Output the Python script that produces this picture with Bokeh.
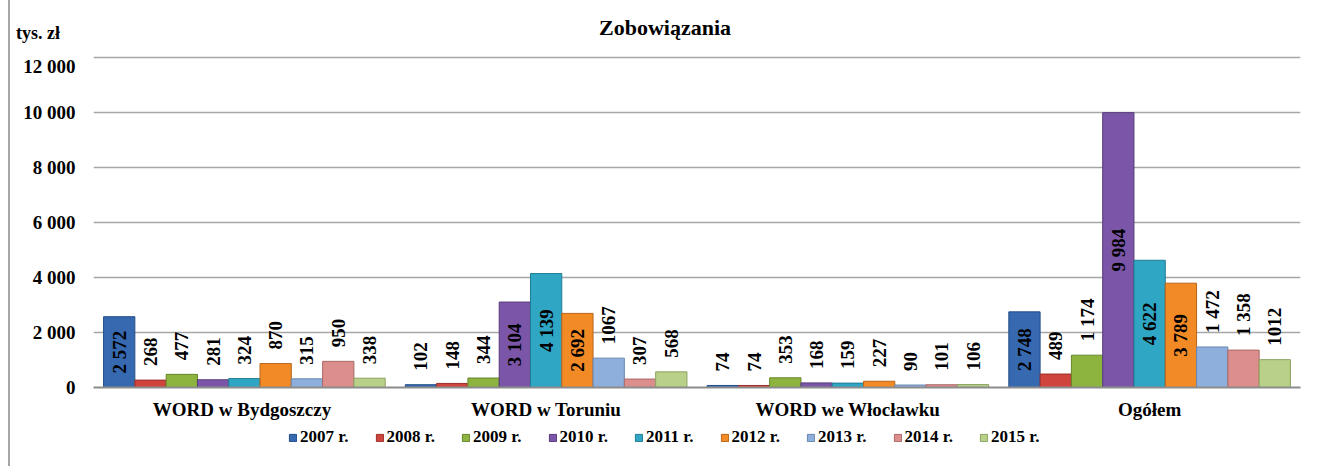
import math
from bokeh.plotting import figure
from bokeh.layouts import column
from bokeh.models import (ColumnDataSource, FactorRange, Range1d, SingleIntervalTicker,
                          CustomJSTickFormatter, Legend, LegendItem, Div)
from bokeh.transform import dodge
from bokeh.core.properties import value
from bokeh.embed import file_html
from bokeh.resources import INLINE

# ---------------- data ----------------
categories = ["WORD  w Bydgoszczy", "WORD w Toruniu", "WORD we Włocławku", "Ogółem"]
years = ["2007 r.", "2008 r.", "2009 r.", "2010 r.", "2011 r.", "2012 r.", "2013 r.", "2014 r.", "2015 r."]
v2007 = [2572, 102, 74, 2748]
v2008 = [268, 148, 74, 489]
v2009 = [477, 344, 353, 1174]
v2010 = [281, 3104, 168, 9984]
v2011 = [324, 4139, 159, 4622]
v2012 = [870, 2692, 227, 3789]
v2013 = [315, 1067, 90, 1472]
v2014 = [950, 307, 101, 1358]
v2015 = [338, 568, 106, 1012]
series = [v2007, v2008, v2009, v2010, v2011, v2012, v2013, v2014, v2015]
labels_without_space = [1067, 1012]
y_ticks_step = 2000
y_max = 12000
title_text = "Zobowiązania"
unit_text = "tys. zł"

# ---------------- style ----------------
colors = ["#3669B0", "#D0443E", "#8DB43E", "#7B56A8", "#2FA6C4",
          "#F28A26", "#8EAEDB", "#DB8E8C", "#B9D088"]
edges = ["#244E88", "#9C2E2A", "#66862A", "#573C7C", "#1F7C94",
         "#B9641A", "#6A87B0", "#A96967", "#8BA260"]
FONT = "Liberation Serif"
BAR_W = 0.1037
INSIDE_MIN = 2000
SHIFT = 10          # left frame line (8px margin + 2px border)
HEADER_H = 55
FRAME_H = 332
AXIS_H = 38
FOOTER_H = 466 - HEADER_H - FRAME_H - AXIS_H
TOTAL_W = 1310


def fmt(v):
    if v in labels_without_space:
        return str(v)
    return f"{v:,}".replace(",", " ")


# ---------------- header (title + unit) ----------------
hdr_html = (
    f'<div style="position:relative;width:{TOTAL_W}px;height:{HEADER_H}px;'
    f'font-family:\'{FONT}\';color:black;">'
    f'<span style="position:absolute;left:{665 - SHIFT}px;top:16px;transform:translateX(-50%);'
    f'font-size:22px;line-height:24px;font-weight:bold;white-space:nowrap;">{title_text}</span>'
    f'<span style="position:absolute;left:{16 - SHIFT}px;top:23px;'
    f'font-size:18px;line-height:20px;font-weight:bold;white-space:nowrap;">{unit_text}</span>'
    f'</div>'
)
header = Div(text=hdr_html, width=TOTAL_W, height=HEADER_H, margin=0)

# ---------------- main chart ----------------
p = figure(x_range=FactorRange(*categories), y_range=Range1d(0, y_max + 60),
           frame_width=1207, frame_height=FRAME_H, output_backend="svg", toolbar_location=None,
           min_border_left=93 - SHIFT, min_border_right=TOTAL_W - 1207 - (93 - SHIFT),
           min_border_top=0, min_border_bottom=AXIS_H)
p.outline_line_color = None
p.background_fill_color = "white"
p.border_fill_color = "white"

p.xgrid.grid_line_color = None
p.ygrid.grid_line_color = "#a6a6a6"
p.ygrid.grid_line_width = 1.5

p.yaxis.ticker = SingleIntervalTicker(interval=y_ticks_step)
p.yaxis.formatter = CustomJSTickFormatter(
    code="return tick.toString().replace(/\\B(?=(\\d{3})+(?!\\d))/g, ' ');")
p.yaxis.axis_line_color = None
p.yaxis.major_tick_line_color = None
p.yaxis.minor_tick_line_color = None
p.yaxis.major_label_standoff = 12
p.yaxis.major_label_text_font = FONT
p.yaxis.major_label_text_font_size = "19px"
p.yaxis.major_label_text_font_style = "bold"
p.yaxis.major_label_text_color = "black"

p.xaxis.axis_line_color = "#8c8c8c"
p.xaxis.axis_line_width = 2
p.xaxis.major_tick_line_color = None
p.xaxis.minor_tick_line_color = None
p.xaxis.major_label_standoff = 5
p.xaxis.major_label_text_font = FONT
p.xaxis.major_label_text_font_size = "19px"
p.xaxis.major_label_text_font_style = "bold"
p.xaxis.major_label_text_color = "black"

# ---------------- footer (legend) ----------------
footer = figure(x_range=Range1d(0, 1), y_range=Range1d(0, 1),
                frame_width=1207, frame_height=FOOTER_H, output_backend="svg",
                toolbar_location=None, min_border_left=93 - SHIFT,
                min_border_right=TOTAL_W - 1207 - (93 - SHIFT), min_border_top=0,
                min_border_bottom=0)
footer.axis.visible = False
footer.grid.visible = False
footer.outline_line_color = None

items = []
for i, vals in enumerate(series):
    off = (i - 4) * BAR_W
    inside = [v > INSIDE_MIN for v in vals]
    src = ColumnDataSource(dict(
        cat=categories,
        val=vals,
        ty=[v / 2 if ins else v for v, ins in zip(vals, inside)],
        txt=[fmt(v) for v in vals],
        align=["center" if ins else "left" for ins in inside],
        yoff=[0 if ins else -14 for ins in inside],
    ))
    p.vbar(x=dodge("cat", off, range=p.x_range), top="val", bottom=0, width=BAR_W,
           source=src, fill_color=colors[i], line_color=edges[i], line_width=1)
    p.text(x=dodge("cat", off, range=p.x_range), y="ty", text="txt", angle=math.pi / 2,
           text_align="align", text_baseline="middle", y_offset="yoff",
           text_font=value(FONT), text_font_size="19px", text_font_style="bold",
           text_color="black", source=src)
    # hidden renderer that only supplies the legend key style
    lr = footer.vbar(x=[0.5], top=[1], width=0.1, fill_color=colors[i], line_color=edges[i])
    lr.visible = False
    items.append(LegendItem(label=years[i], renderers=[lr]))

legend = Legend(items=items, orientation="horizontal", location=(195, FOOTER_H - 8 - 14),
                label_text_font=FONT, label_text_font_size="17px",
                label_text_font_style="bold", label_text_color="black",
                glyph_width=9, glyph_height=9, label_standoff=3, spacing=26,
                padding=4, margin=0, border_line_color=None, background_fill_alpha=0,
                click_policy="none")
footer.add_layout(legend, "center")

layout = column(header, p, footer, spacing=0,
                styles={"border-left": "2px solid #a6a6a6", "margin-left": "8px"})

open("out.html", "w").write(file_html(layout, INLINE))
